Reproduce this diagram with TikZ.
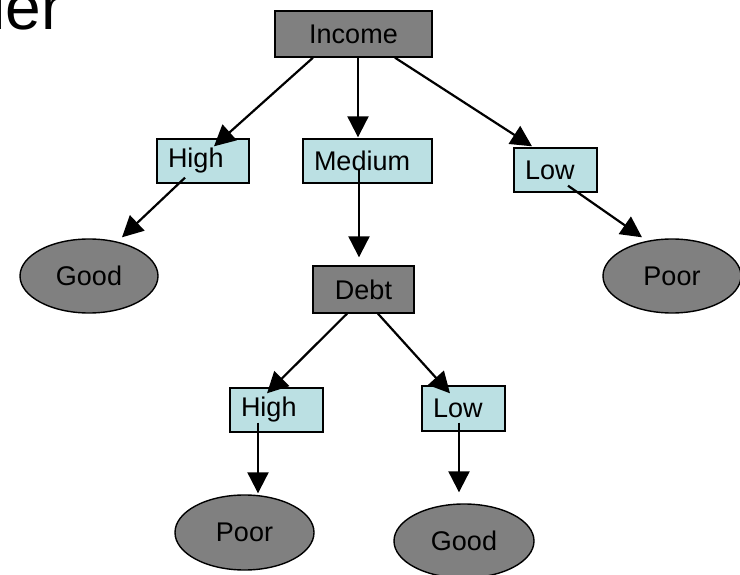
\documentclass[tikz,border=0pt]{standalone}
\usepackage{fontspec}
\setmainfont{Liberation Sans}
\usetikzlibrary{arrows.meta,shapes.geometric}
\definecolor{splitgray}{RGB}{128,128,128}
\definecolor{valcyan}{RGB}{187,224,227}
\newcommand{\treefont}{\fontsize{27}{31}\selectfont}
\begin{document}
\begin{tikzpicture}[x=1pt, y=-1pt,
  split/.style={rectangle, draw, line width=1.4pt, fill=splitgray, inner sep=0pt, font=\treefont},
  branch/.style={rectangle, draw, line width=1.4pt, fill=valcyan, inner xsep=11pt, inner ysep=0pt, align=left, minimum height=44pt, font=\treefont},
  leaf/.style={ellipse, draw, line width=1.4pt, fill=splitgray, inner sep=0pt, minimum width=138pt, minimum height=74pt, font=\treefont},
  edge/.style={line width=2.2pt, -{Triangle[length=21pt, width=21pt]}}]
\useasboundingbox (0,0) rectangle (740,575);
\clip (0,0) rectangle (740,575);
% cut-off title
\node[anchor=base west, inner sep=0pt, font=\fontsize{64}{70}\selectfont] (title) at (-8.6,30) {ler};
% tree nodes
\node[split, minimum width=157pt, minimum height=46pt] (income) at (353.5,34) {Income};
\node[branch, text width=70pt] (hi1) at (203,161) {High};
\node[branch, text width=107pt] (med) at (367.5,161) {Medium};
\node[branch, text width=61pt] (lo1) at (555.5,170) {Low};
\node[leaf] (good1) at (89,276) {Good};
\node[leaf] (poor1) at (672,276) {Poor};
\node[split, minimum width=101pt, minimum height=47pt] (debt) at (363.5,289.5) {Debt};
\node[branch, text width=71pt] (hi2) at (276.5,410) {High};
\node[branch, text width=61pt, minimum height=45pt] (lo2) at (463.5,408.5) {Low};
\node[leaf, minimum width=139pt, minimum height=75pt] (poor2) at (244.5,532.5) {Poor};
\node[leaf, minimum width=140pt] (good2) at (464,541) {Good};
% arrows
\draw[edge] ([xshift=-40.5pt]income.south) -- ([xshift=11pt, yshift=-8pt]hi1.north);
\draw[edge] ([xshift=4.5pt]income.south) -- ([xshift=-9.5pt, yshift=1pt]med.north);
\draw[edge] ([xshift=41.5pt]income.south) -- ([xshift=-23.5pt, yshift=1pt]lo1.north);
\draw[edge] ([xshift=-18pt, yshift=6pt]hi1.south) -- ([xshift=33pt, yshift=1pt]good1.north);
\draw[edge] ([xshift=-8.5pt, yshift=15pt]med.south) -- ([xshift=-4.5pt, yshift=8pt]debt.north);
\draw[edge] ([xshift=12.5pt, yshift=7pt]lo1.south) -- ([xshift=-30pt, yshift=1pt]poor1.north);
\draw[edge] ([xshift=-16.5pt]debt.south) -- ([xshift=-9.5pt, yshift=-6pt]hi2.north);
\draw[edge] ([xshift=14.5pt]debt.south) -- ([xshift=-13.5pt, yshift=-8pt]lo2.north);
\draw[edge] ([xshift=-18.5pt, yshift=10pt]hi2.south) -- ([xshift=13.5pt, yshift=1pt]poor2.north);
\draw[edge] ([xshift=-4.5pt, yshift=9pt]lo2.south) -- ([xshift=-5pt, yshift=11pt]good2.north);
\end{tikzpicture}
\end{document}
